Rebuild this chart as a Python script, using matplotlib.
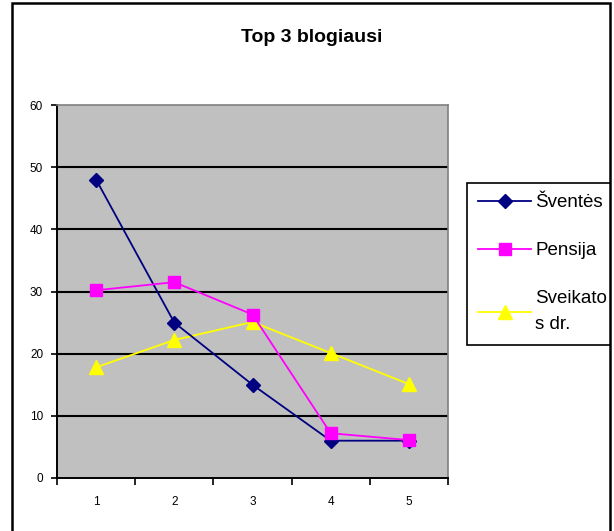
import matplotlib
matplotlib.use('Agg')
import matplotlib.pyplot as plt
from matplotlib.patches import Rectangle

plt.rcParams['font.family'] = ['Liberation Sans', 'DejaVu Sans']

# ── Duomenys ────────────────────────────────────────────────────────────────
kategorijos = [1, 2, 3, 4, 5]
sventes = [48, 25, 15, 6, 6]
pensija = [30.2, 31.5, 26.3, 7.2, 6.1]
sveikatos = [17.8, 22.2, 25.1, 20.1, 15.1]
pavadinimai = ["Šventės", "Pensija", "Sveikato\ns dr."]

NAVY = "#000080"
MAGENTA = "#FF00FF"
YELLOW = "#FFFF00"
GRAY = "#C0C0C0"

fig = plt.figure(figsize=(6.14, 5.31), dpi=100)
fig.patch.set_facecolor('white')

# rėmelis aplink visą diagramą (virš legendos, kad ją nukirptų dešinėje)
fig.add_artist(Rectangle((12 / 614, -0.02), (610 - 12) / 614, 1.02 - 3 / 531,
                         transform=fig.transFigure, fill=False,
                         edgecolor='black', linewidth=1.8, zorder=10))
# balta juosta už rėmelio
fig.add_artist(Rectangle((611 / 614, 0), 0.01, 1, transform=fig.transFigure,
                         facecolor='white', edgecolor='none', zorder=9))

ax = fig.add_axes([57 / 614, 53 / 531, 391 / 614, 373 / 531])
ax.set_facecolor(GRAY)

for y in range(10, 60, 10):
    ax.axhline(y, color='black', linewidth=1.5, zorder=1)

l1, = ax.plot(kategorijos, sventes, color=NAVY, lw=1.3, marker='D',
              markersize=7, zorder=3)
l2, = ax.plot(kategorijos, pensija, color=MAGENTA, lw=1.3, marker='s',
              markersize=8, zorder=4)
l3, = ax.plot(kategorijos, sveikatos, color=YELLOW, lw=1.3, marker='^',
              markersize=10, zorder=2)

ax.set_xlim(0.5, 5.5)
ax.set_ylim(0, 60)
ax.set_yticks(range(0, 61, 10))
ax.set_xticks([k + 0.5 for k in [0] + kategorijos])
ax.set_xticklabels([])
ax.set_xticks(kategorijos, minor=True)
ax.set_xticklabels([str(k) for k in kategorijos], minor=True)
ax.tick_params(axis='x', which='minor', length=0, pad=13, labelsize=8.5)
ax.tick_params(axis='x', which='major', length=5, width=1.2, direction='out')
ax.tick_params(axis='y', length=4, width=1.2, direction='out', labelsize=8.5,
               pad=6)

for s in ['top', 'right']:
    ax.spines[s].set_color('#808080')
    ax.spines[s].set_linewidth(1.2)
for s in ['left', 'bottom']:
    ax.spines[s].set_color('black')
    ax.spines[s].set_linewidth(1.4)

fig.text(312 / 614, 1 - 37 / 531, "Top 3 blogiausi", ha='center', va='center',
         fontsize=14, fontweight='bold')

leg = fig.legend([l1, l2, l3], pavadinimai, loc='upper left',
                 bbox_to_anchor=(467 / 614, 1 - 183 / 531), borderaxespad=0,
                 fontsize=13.5, handlelength=2.8, handletextpad=0.25,
                 labelspacing=1.65, borderpad=0.6, fancybox=False,
                 edgecolor='black', framealpha=1)
leg.get_frame().set_linewidth(1.2)
leg.get_texts()[2].set_linespacing(1.7)

fig.savefig("out.png", dpi=100)
